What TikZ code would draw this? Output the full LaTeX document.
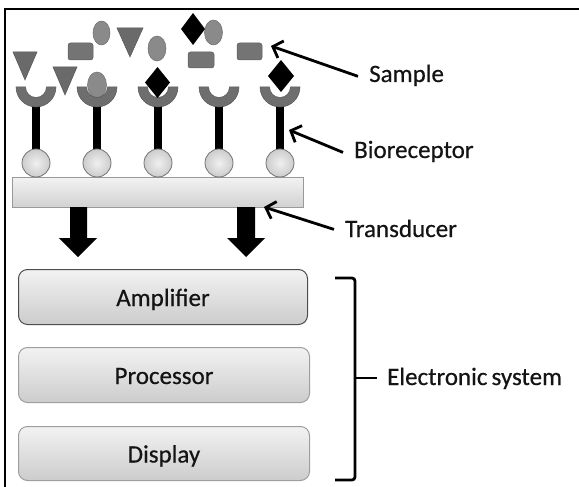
\documentclass[tikz,border=0pt]{standalone}
\usepackage{fontspec}
\setmainfont{Carlito}[FakeBold=0.5]
\usetikzlibrary{arrows.meta}
\definecolor{txt}{HTML}{141414}
\definecolor{cupc}{HTML}{6E6E6E}
\definecolor{tric}{HTML}{6A6A6A}
\definecolor{ellc}{HTML}{8A8A8A}
\definecolor{recc}{HTML}{747474}
\begin{document}
\begin{tikzpicture}[x=1pt,y=-1pt,
  lbl/.style={font=\fontsize{25}{29}\selectfont, text=txt, inner sep=0pt},
  ptr/.style={line width=2.8pt, -{Straight Barb[length=8.5pt,width=18pt,line width=2.8pt]}},
  ebox/.style={draw=#1, line width=1pt, rounded corners=9pt, top color=white!95!black, bottom color=white!80!black,
     minimum width=289pt, minimum height=55pt, text height=18pt, text depth=0pt,
     font=\fontsize{25}{29}\selectfont, text=txt, anchor=north west},
  ball/.style={draw=black!55, line width=0.8pt, inner color=white!94!black, outer color=white!80!black},
  cupsty/.style={fill=cupc, draw=cupc!80!black, line width=0.5pt},
  tristy/.style={fill=tric, draw=tric!80!black, line width=0.5pt},
  ellsty/.style={fill=ellc, draw=ellc!80!black, line width=0.5pt},
  recsty/.style={fill=recc, draw=recc!80!black, line width=0.5pt, rounded corners=2.5pt},
  blk/.style={fill=black}
]
\useasboundingbox (0,0) rectangle (579,487);
% frame
\draw[line width=1.5pt] (5,487) -- (5,9) -- (579,9);

% sample molecules (free)
\draw[tristy] (13,52) -- (37,52) -- (25,80) -- cycle;
\draw[tristy] (53,67) -- (77,67) -- (65,95) -- cycle;
\draw[tristy] (117,28) -- (143,28) -- (130,57) -- cycle;
\draw[recsty] (68,43) rectangle (93,60);
\draw[recsty] (188,52) rectangle (214,68);
\draw[recsty] (237,43) rectangle (262,60);
\draw[ellsty] (101.5,33) ellipse [x radius=8.5pt, y radius=12pt];
\draw[ellsty] (157,48.5) ellipse [x radius=9pt, y radius=12.5pt];
\draw[ellsty] (213.5,32.5) ellipse [x radius=9pt, y radius=12.5pt];
\fill (193,13) -- (205,29) -- (193,45) -- (181,29) -- cycle;

% bound molecules (behind cups)
\draw[ellsty] (97,85) ellipse [x radius=9.5pt, y radius=13pt];

% transducer
\node[draw=black!40, line width=0.8pt, top color=white!95!black, bottom color=white!82!black,
      minimum width=291pt, minimum height=30pt, anchor=north west, inner sep=0pt] (trans) at (12,177) {};

% bioreceptors
\foreach \cx in {36,97,158,219,280}{
  \fill[black] (\cx-4.3,104) rectangle (\cx+4.3,150);
  \draw[ball] (\cx,163) circle [radius=14pt];
  \draw[cupsty] (\cx-20,87) arc[start angle=180,end angle=360,radius=20pt]
     -- (\cx+10.5,87) arc[start angle=0,end angle=-180,radius=10.5pt] -- cycle;
}
% bound diamonds
\fill (157.5,67) -- (170,82.5) -- (157.5,98) -- (145,82.5) -- cycle;
\fill (281,60) -- (294,76) -- (281,92) -- (268,76) -- cycle;

% block arrows
\fill[blk] (70,207) -- (87,207) -- (87,238) -- (97,238) -- (78,257) -- (59,238) -- (70,238) -- cycle;
\fill[blk] (237,207) -- (255,207) -- (255,238) -- (265,238) -- (246,257) -- (227,238) -- (237,238) -- cycle;

% electronic system boxes
\node[ebox=black!70] (amp) at (18,269) {Amplifier};
\node[ebox=black!38, minimum width=291pt] (proc) at (18,347) {Processor};
\node[ebox=black!38, minimum width=291pt, minimum height=54pt] (disp) at (18,426) {Display};

% labels
\node[lbl, anchor=base west] (sample) at (369,82) {Sample};
\node[lbl, anchor=base west] (bio) at (354,158) {Bioreceptor};
\node[lbl, anchor=base west] (tra) at (345,237) {Transducer};
\node[lbl, anchor=base west] (elec) at (387,385) {Electronic\kern-1.5pt\ system};

\coordinate (samplept) at (271,46);
\coordinate (biopt) at (289,130);
\coordinate (trapt) at (264,207);
\draw[ptr] ([xshift=-11pt,yshift=-1pt]sample.west) -- (samplept);
\draw[ptr] ([xshift=-11pt,yshift=-1pt]bio.west) -- (biopt);
\draw[ptr] ([xshift=-11pt,yshift=-1pt]tra.west) -- (trapt);

% brace
\coordinate (bt) at (335,278);
\coordinate (bb) at (335,480);
\coordinate (bm) at (377,378);
\draw[line width=2.8pt, rounded corners=3pt] (bt) -- (355,278) -- (355,480) -- (bb);
\draw[line width=2.8pt] (355,378) -- (bm);
\end{tikzpicture}
\end{document}
